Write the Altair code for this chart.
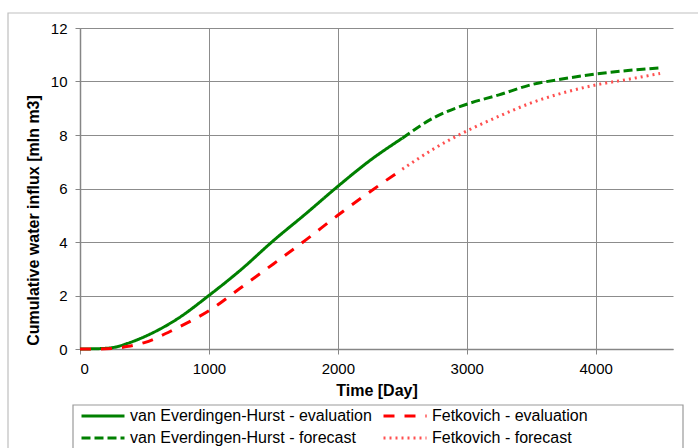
import altair as alt
import pandas as pd

# ---- data ----
t_eval = [0, 125, 250, 375, 500, 750, 1000, 1250, 1500, 1750, 2000, 2250, 2500]
veh_eval = [0.0, 0.01, 0.05, 0.22, 0.46, 1.11, 2.0, 2.97, 4.05, 5.05, 6.08, 7.05, 7.88]
fet_eval = [0.0, 0.0, 0.02, 0.1, 0.24, 0.78, 1.43, 2.3, 3.18, 4.07, 5.0, 5.88, 6.72]

t_fc = [2500, 2750, 3000, 3250, 3500, 3750, 4000, 4250, 4500]
veh_fc = [7.88, 8.66, 9.15, 9.5, 9.88, 10.1, 10.28, 10.41, 10.51]
fet_fc = [6.72, 7.5, 8.15, 8.7, 9.2, 9.58, 9.87, 10.08, 10.3]

# legend fills column by column, so this order gives the reference's rows
series = [
    "van Everdingen-Hurst - evaluation",
    "van Everdingen-Hurst - forecast",
    "Fetkovich - evaluation",
    "Fetkovich - forecast",
]
colors = ["#008000", "#008000", "#FF0000", "#FF5050"]
dashes = [[1, 0], [9, 4], [11, 10], [2, 4]]

x_ticks = [0, 1000, 2000, 3000, 4000]
y_ticks = [0, 2, 4, 6, 8, 10, 12]

rows = []
for t, v in zip(t_eval, veh_eval):
    rows.append({"t": t, "v": v, "s": series[0]})
for t, v in zip(t_eval, fet_eval):
    rows.append({"t": t, "v": v, "s": series[2]})
for t, v in zip(t_fc, veh_fc):
    rows.append({"t": t, "v": v, "s": series[1]})
for t, v in zip(t_fc, fet_fc):
    rows.append({"t": t, "v": v, "s": series[3]})
df = pd.DataFrame(rows)

FONT = "Liberation Sans"

leg = alt.Legend(
    title=None, orient="none", legendX=0, legendY=380, columns=2,
    symbolType="stroke", symbolSize=1849, symbolStrokeWidth=3,
    labelFontSize=16, labelFont=FONT, labelColor="#000000",
    labelOffset=4, columnPadding=10, rowPadding=6, padding=0,
    labelLimit=400, clipHeight=16,
)

lines = alt.Chart(df).mark_line(interpolate="monotone", strokeWidth=3).encode(
    x=alt.X(
        "t:Q",
        scale=alt.Scale(domain=[0, 4600], nice=False, zero=False),
        axis=alt.Axis(
            title="Time [Day]", values=x_ticks, format="d",
            titleY=46, titleBaseline="alphabetic",
        ),
    ),
    y=alt.Y(
        "v:Q",
        scale=alt.Scale(domain=[0, 12], nice=False),
        axis=alt.Axis(
            title="Cumulative water influx [mln m3]", values=y_ticks,
            titleX=-47, titleY=192, titleBaseline="middle", titleAlign="center",
        ),
    ),
    color=alt.Color("s:N", scale=alt.Scale(domain=series, range=colors), legend=leg),
    strokeDash=alt.StrokeDash("s:N", scale=alt.Scale(domain=series, range=dashes), legend=leg),
    detail="s:N",
)

frame_data = alt.Data(values=[{"k": 1}])
outer = alt.Chart(frame_data).mark_rect(fill=None, stroke="#BFBFBF", strokeWidth=1.2).encode(
    x=alt.value(-72), x2=alt.value(720), y=alt.value(-15), y2=alt.value(500)
)
legend_box = alt.Chart(frame_data).mark_rect(fill=None, stroke="#9A9A9A", strokeWidth=1.2).encode(
    x=alt.value(-7), x2=alt.value(603), y=alt.value(377), y2=alt.value(480)
)

chart = alt.layer(outer, legend_box, lines).properties(
    width=593, height=321,
    background="white",
    autosize=alt.AutoSizeParams(type="none"),
    padding={"left": 80, "top": 28, "right": 25, "bottom": 99},
).configure_view(stroke=None).configure_axis(
    labelFont=FONT, labelFontSize=15, labelColor="#000000",
    titleFont=FONT, titleFontSize=16, titleFontWeight="bold", titleColor="#000000",
    domainColor="#868686", domainWidth=1.5,
    tickColor="#868686", tickSize=5, tickWidth=1,
    gridColor="#8C8C8C", gridWidth=1, gridOpacity=1,
    labelPadding=7,
).configure_axisY(labelPadding=8)

chart.save("out.html", embed_options={"renderer": "svg", "actions": False})
